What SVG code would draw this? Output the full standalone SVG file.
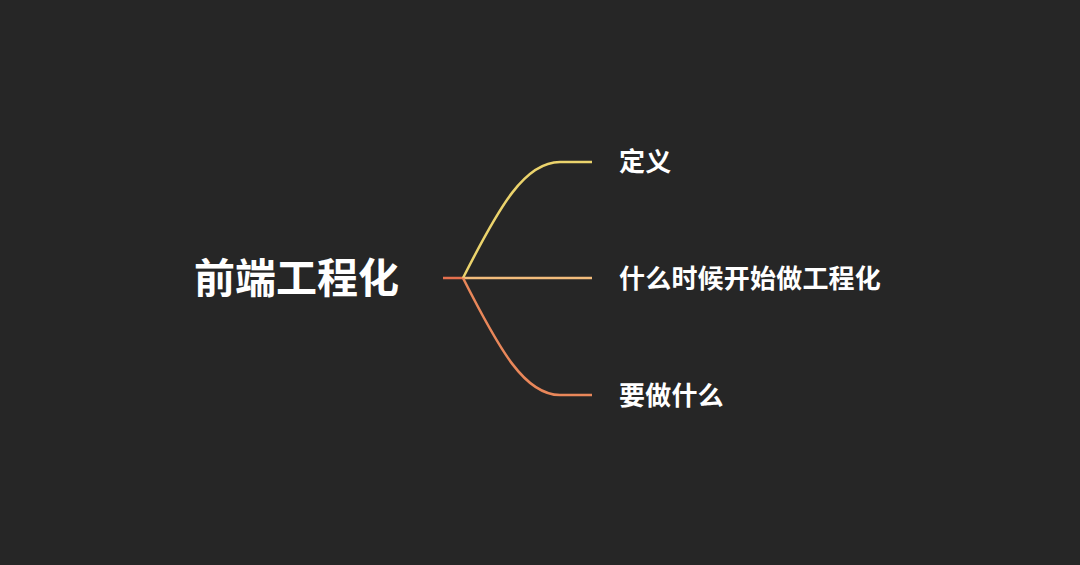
<svg xmlns="http://www.w3.org/2000/svg" width="1080" height="565" viewBox="0 0 1080 565">
<style>
.t{font-family:"Noto Sans CJK SC","Noto Sans",sans-serif;fill:#ffffff;font-weight:bold}
.root{font-size:41px}
.lab{font-size:26px;letter-spacing:0.2px}
.c{fill:none;stroke-width:2.5;stroke-linecap:butt}
</style>
<rect width="1080" height="565" fill="#262626"/>
<g id="connectors">
<path class="c" stroke="#E5704E" d="M443,278 H464"/>
<path class="c" stroke="#EBD36C" d="M463,278 C500,205 525,162 560,162 H592"/>
<path class="c" stroke="#F2BC7C" d="M463,278 H592"/>
<path class="c" stroke="#E9875A" d="M463,278 C500,351 525,395 560,395 H592"/>
</g>
<g id="root"><text class="t root" x="194" y="293">前端工程化</text></g>
<g id="n1"><text class="t lab" x="619" y="171">定义</text></g>
<g id="n2"><text class="t lab" x="619" y="288">什么时候开始做工程化</text></g>
<g id="n3"><text class="t lab" x="619" y="405">要做什么</text></g>
</svg>
